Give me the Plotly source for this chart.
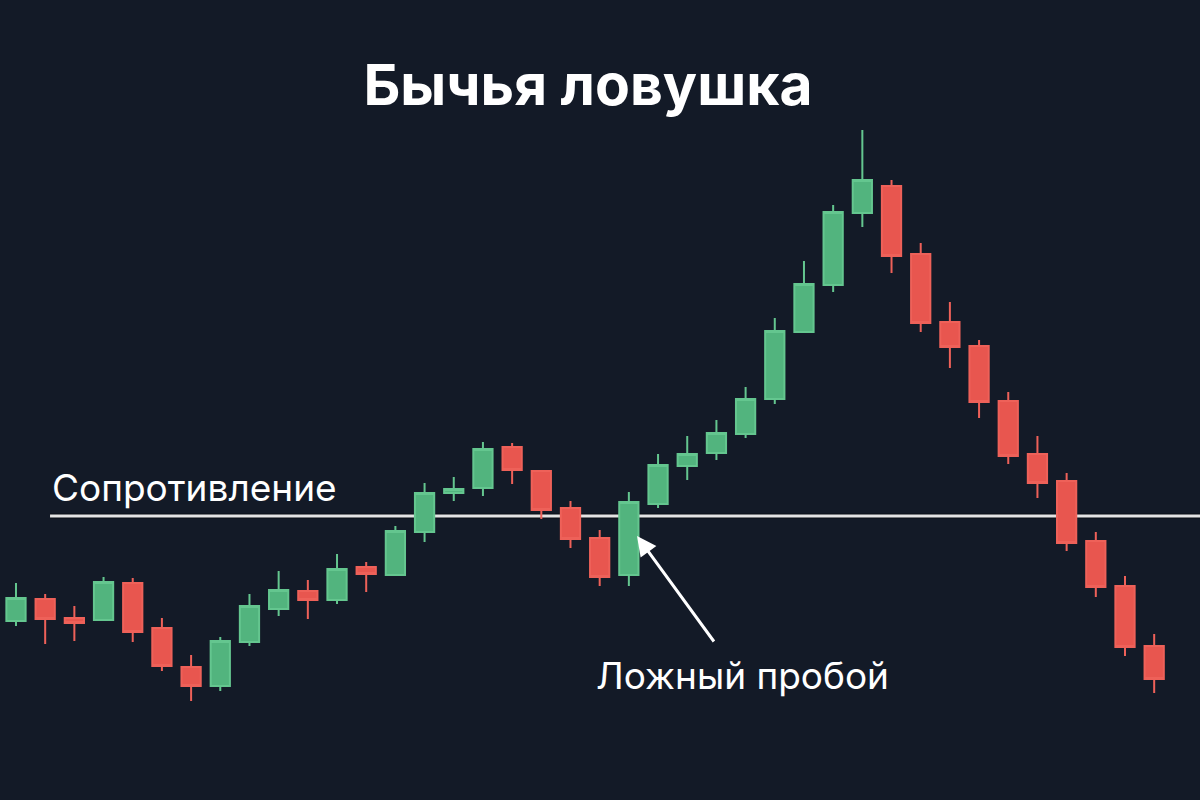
import plotly.graph_objects as go

# price values (arbitrary units)
opens = [17.9, 20.1, 18.2, 18.0, 21.7, 17.2, 13.3, 11.4, 15.8, 19.1,
         20.9, 20.0, 23.3, 22.5, 26.8, 30.7, 31.2, 35.3, 32.9, 29.2,
         26.2, 22.5, 29.6, 33.4, 34.7, 36.6, 40.1, 46.8, 51.5, 58.7,
         61.4, 54.6, 47.8, 45.4, 39.9, 34.6, 31.9, 25.9, 21.4, 15.4]
highs = [21.7, 20.6, 19.4, 22.3, 22.2, 18.2, 14.5, 16.3, 20.6, 22.9,
         22.0, 24.6, 23.8, 27.4, 31.7, 32.3, 35.8, 35.7, 32.9, 29.9,
         27.0, 30.8, 34.6, 36.4, 38.0, 41.3, 48.2, 53.9, 59.5, 67.0,
         62.0, 55.7, 49.8, 46.0, 40.8, 36.4, 32.7, 26.8, 22.4, 16.6]
lows = [17.4, 15.6, 15.9, 17.9, 15.8, 12.9, 9.9, 10.9, 15.4, 18.4,
        18.1, 19.6, 20.8, 22.4, 25.8, 29.9, 30.4, 31.6, 28.1, 25.2,
        21.4, 21.4, 29.2, 32.0, 34.0, 36.2, 39.6, 46.8, 50.8, 57.3,
        52.7, 46.8, 43.2, 38.2, 33.6, 30.2, 24.9, 20.3, 14.4, 10.7]
closes = [20.2, 18.1, 17.7, 21.8, 16.8, 13.4, 11.4, 15.9, 19.4, 21.0,
          20.0, 23.1, 22.6, 26.9, 30.7, 31.1, 35.1, 33.0, 29.0, 26.1,
          22.3, 29.8, 33.5, 34.6, 36.7, 40.1, 46.9, 51.6, 58.8, 62.0,
          54.4, 47.7, 45.3, 39.8, 34.4, 31.7, 25.7, 21.3, 15.3, 12.1]
bars = list(range(len(opens)))

resistance = 28.4
breakout_bar = 22

BG = "#131a27"
GREEN_FILL = "#52b47e"
GREEN_LINE = "#64c68f"
RED_FILL = "#e8564f"
RED_LINE = "#ee6159"
FONT = "Inter"

fig = go.Figure(
    go.Candlestick(
        x=bars,
        open=opens,
        high=highs,
        low=lows,
        close=closes,
        increasing={"fillcolor": GREEN_FILL, "line": {"color": GREEN_LINE, "width": 2}},
        decreasing={"fillcolor": RED_FILL, "line": {"color": RED_LINE, "width": 2}},
        hoverinfo="skip",
        showlegend=False,
    )
)

# resistance level
fig.add_shape(
    type="line", xref="paper", x0=0.0417, x1=1, yref="y", y0=resistance, y1=resistance,
    line={"color": "#0b0f17", "width": 5}, layer="below",
)
fig.add_shape(
    type="line", xref="paper", x0=0.0417, x1=1, yref="y", y0=resistance, y1=resistance,
    line={"color": "#e4e4e4", "width": 3}, layer="below",
)

fig.add_annotation(
    text="Сопротивление", xref="paper", x=0.042, xanchor="left",
    yref="y", y=31.3, yanchor="middle", showarrow=False,
    font={"family": FONT, "size": 37, "color": "#ffffff"},
)

# false breakout arrow + label
fig.add_annotation(
    x=breakout_bar - 0.72, y=26.4, xref="x", yref="y",
    text="", showarrow=True, arrowhead=2, arrowsize=1.3, arrowwidth=3,
    arrowcolor="#ffffff", axref="pixel", ayref="pixel", ax=78, ay=107, standoff=0,
)
fig.add_annotation(
    text="Ложный пробой", xref="paper", x=0.619, xanchor="center",
    yref="y", y=12.5, yanchor="middle", showarrow=False,
    font={"family": FONT, "size": 37, "color": "#ffffff"},
)

fig.update_layout(
    width=1200,
    height=800,
    margin={"l": 0, "r": 0, "t": 0, "b": 0},
    paper_bgcolor=BG,
    plot_bgcolor=BG,
    title={
        "text": "Бычья ловушка",
        "x": 0.49,
        "xanchor": "center",
        "y": 0.894,
        "yanchor": "middle",
        "font": {"family": FONT, "size": 57, "color": "#ffffff", "weight": "bold"},
    },
    xaxis={"range": [-0.548, 40.57], "visible": False, "rangeslider": {"visible": False}},
    yaxis={"range": [0, 80], "visible": False},
    boxgap=0.34,
    boxgroupgap=0,
)

# drop the default page margin so the figure sits at the window corner
fig.write_html(
    "out.html",
    config={"displayModeBar": False},
    post_script="document.body.style.margin = '0';",
)
